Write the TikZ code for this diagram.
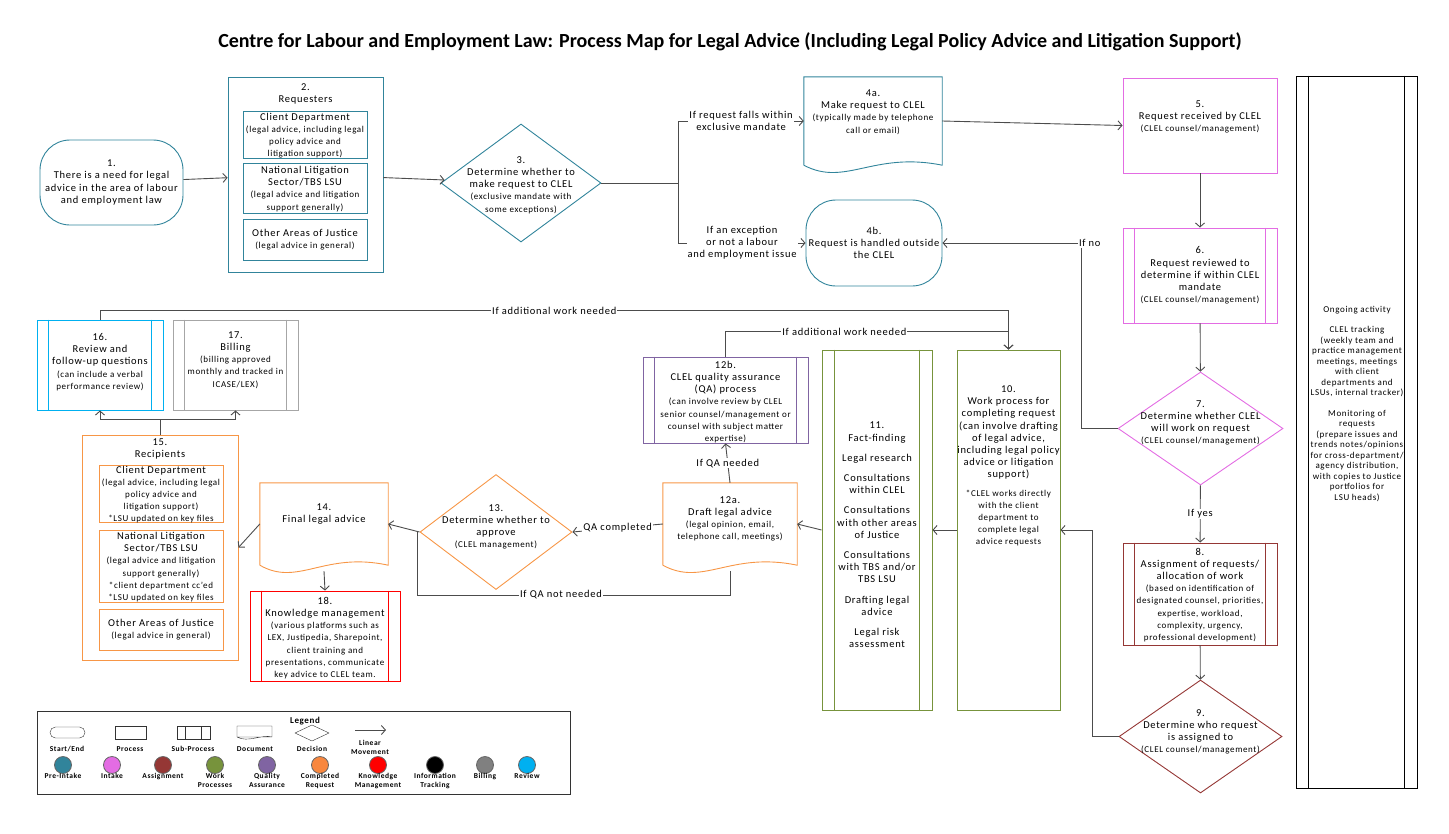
\documentclass[tikz,border=0pt]{standalone}
\usepackage{fontspec}
\setmainfont{Carlito}[LetterSpace=7]
\usetikzlibrary{arrows.meta, shapes.geometric, calc}

\definecolor{preintake}{HTML}{31849B}
\definecolor{intake}{HTML}{E36CE3}
\definecolor{assign}{HTML}{953735}
\definecolor{workp}{HTML}{77933C}
\definecolor{qualas}{HTML}{8064A2}
\definecolor{complreq}{HTML}{F79646}
\definecolor{knowman}{HTML}{FF0000}
\definecolor{billing}{HTML}{A6A6A6}
\definecolor{review}{HTML}{00B0F0}

\tikzset{
  box/.style={draw=#1, line width=0.9pt, rectangle, inner sep=0pt},
  term/.style={box=#1, rounded corners=30pt},
  decision/.style={draw=#1, line width=0.9pt, diamond, inner sep=0pt},
  txt/.style={align=center, inner sep=0pt, font=\fontsize{10.5}{12.2}\selectfont},
  lbl/.style={fill=white, inner sep=1pt, align=center, font=\fontsize{10.5}{12}\selectfont},
  line/.style={draw=black!70, line width=0.9pt},
  conn/.style={line, -{Straight Barb[length=4pt,width=9pt]}},
  dot/.style={circle, draw=black!60, line width=0.8pt, minimum size=17pt, inner sep=0pt, fill=#1},
  leg/.style={align=center, inner sep=0pt, font=\fontsize{7.5}{9}\selectfont\bfseries},
}
\newcommand\sm{\fontsize{9}{10.5}\selectfont}
% side bars of a sub-process
\newcommand\subbars[3]{%
  \draw[#3, line width=0.9pt] ($(#1.north west)+(#2,0)$) -- ($(#1.south west)+(#2,0)$)
    ($(#1.north east)+(-#2,0)$) -- ($(#1.south east)+(-#2,0)$);}
% wavy bottom of a document
\newcommand\docwave[2]{%
  \draw[#2, line width=0.9pt] (#1.south west) -- (#1.north west) -- (#1.north east) -- (#1.south east)
    .. controls ($(#1.south east)!0.5!(#1.south west)+(0,-14)$) and ($(#1.south west)!0.3!(#1.south east)+(0,22)$) .. (#1.south west);}

\begin{document}
\begin{tikzpicture}[x=1pt, y=-1pt]
  \useasboundingbox (0,0) rectangle (1449,833);

  \node[font=\fontsize{20}{22}\selectfont\bfseries\addfontfeature{LetterSpace=0}] (title) at (730,42)
    {Centre for Labour and Employment Law: Process Map for Legal Advice (Including Legal Policy Advice and Litigation Support)};

  % Pre-intake
  \node[term=preintake, minimum width=143pt, minimum height=85pt] (n1) at (111.5,182.5) {};
  \node[txt] at (n1) {1.\\There is a need for legal\\advice in the area of labour\\and employment law};

  \node[box=preintake, minimum width=155pt, minimum height=195pt] (n2) at (305.5,174.5) {};
  \node[txt] at (305.5,94) {2.\\Requesters};
  \node[box=preintake, minimum width=124pt, minimum height=47pt] (n2a) at (305,134.5) {};
  \node[txt] at (305,135.5) {Client Department\\\sm(legal advice, including legal\\\sm policy advice and\\\sm litigation support)};
  \node[box=preintake, minimum width=124pt, minimum height=50pt] (n2b) at (305,188) {};
  \node[txt] at (305,189) {National Litigation\\Sector/TBS LSU\\\sm(legal advice and litigation\\\sm support generally)};
  \node[box=preintake, minimum width=124pt, minimum height=41pt] (n2c) at (305,239.5) {};
  \node[txt] at (n2c) {Other Areas of Justice\\\sm(legal advice in general)};

  \node[decision=preintake, minimum width=160pt, minimum height=118pt] (n3) at (521,183) {};
  \node[txt] at (521,185) {3.\\Determine whether to\\make request to CLEL\\\sm(exclusive mandate with\\\sm some exceptions)};

  \node[minimum width=138pt, minimum height=88pt, inner sep=0pt] (n4a) at (873,121) {};
  \docwave{n4a}{preintake}
  \node[txt] at (873,112) {4a.\\Make request to CLEL\\\sm(typically made by telephone\\\sm call or email)};

  \node[term=preintake, minimum width=136pt, minimum height=86pt] (n4b) at (874,243) {};
  \node[txt] at (n4b) {4b.\\Request is handled outside\\the CLEL};

  % Intake
  \node[box=intake, minimum width=154pt, minimum height=95pt] (n5) at (1200,125.5) {};
  \node[txt] at (1200,117) {5.\\Request received by CLEL\\\sm(CLEL counsel/management)};

  \node[box=intake, minimum width=154pt, minimum height=95pt] (n6) at (1200,275.5) {};
  \subbars{n6}{12}{intake}
  \node[txt] at (n6) {6.\\Request reviewed to\\determine if within CLEL\\mandate\\\sm(CLEL counsel/management)};

  \node[decision=intake, minimum width=165pt, minimum height=113pt] (n7) at (1200.5,428.5) {};
  \node[txt] at (1200.5,423) {7.\\Determine whether CLEL\\will work on request\\\sm(CLEL counsel/management)};

  % Assignment
  \node[box=assign, minimum width=154pt, minimum height=102pt] (n8) at (1200,594) {};
  \subbars{n8}{12}{assign}
  \node[txt] at (1200,595) {8.\\Assignment of requests/\\allocation of work\\\sm(based on identification of\\\sm designated counsel, priorities,\\\sm expertise, workload,\\\sm complexity, urgency,\\\sm professional development)};

  \node[decision=assign, minimum width=163pt, minimum height=113pt] (n9) at (1200.5,736.5) {};
  \node[txt] at (1200.5,732) {9.\\Determine who request\\is assigned to\\\sm(CLEL counsel/management)};

  % Information tracking
  \node[box=black, minimum width=121pt, minimum height=712pt] (col) at (1356.5,432) {};
  \subbars{col}{13}{black}
  \node[txt, font=\sm] at (1357,404) {Ongoing activity\\[10pt]CLEL tracking\\(weekly team and\\practice management\\meetings, meetings\\with client\\departments and\\LSUs, internal tracker)\\[10pt]Monitoring of\\requests\\(prepare issues and\\trends notes/opinions\\for cross-department/\\agency distribution,\\with copies to Justice\\portfolios for\\LSU heads)};

  % Work processes
  \node[box=workp, minimum width=103pt, minimum height=360pt] (n10) at (1008.5,530) {};
  \node[txt] at (1008.5,466) {10.\\Work process for\\completing request\\(can involve drafting\\of legal advice,\\including legal policy\\advice or litigation\\support)\\[6pt]\sm *CLEL works directly\\\sm with the client\\\sm department to\\\sm complete legal\\\sm advice requests};

  \node[box=workp, minimum width=110pt, minimum height=360pt] (n11) at (877,530) {};
  \subbars{n11}{13}{workp}
  \node[txt] at (877,535) {11.\\Fact-finding\\[8pt]Legal research\\[8pt]Consultations\\within CLEL\\[8pt]Consultations\\with other areas\\of Justice\\[8pt]Consultations\\with TBS and/or\\TBS LSU\\[8pt]Drafting legal\\advice\\[8pt]Legal risk\\assessment};

  % Quality assurance
  \node[box=qualas, minimum width=165pt, minimum height=86pt] (n12b) at (725.5,400) {};
  \subbars{n12b}{12}{qualas}
  \node[txt] at (725.5,402) {12b.\\CLEL quality assurance\\(QA) process\\\sm(can involve review by CLEL\\\sm senior counsel/management or\\\sm counsel with subject matter\\\sm expertise)};

  % Completed request
  \node[minimum width=134pt, minimum height=82pt, inner sep=0pt] (n12a) at (730,524) {};
  \docwave{n12a}{complreq}
  \node[txt] at (730,519) {12a.\\Draft legal advice\\\sm(legal opinion, email,\\\sm telephone call, meetings)};

  \node[decision=complreq, minimum width=152pt, minimum height=115pt] (n13) at (496,532) {};
  \node[txt] at (496,527) {13.\\Determine whether to\\approve\\\sm(CLEL management)};

  \node[minimum width=128pt, minimum height=82pt, inner sep=0pt] (n14) at (324,524) {};
  \docwave{n14}{complreq}
  \node[txt] at (324,514) {14.\\Final legal advice};

  \node[box=complreq, minimum width=156pt, minimum height=225pt] (n15) at (160,547.5) {};
  \node[txt] at (160,449) {15.\\Recipients};
  \node[box=complreq, minimum width=124pt, minimum height=57pt] (n15a) at (161,493.5) {};
  \node[txt] at (161,494.5) {Client Department\\\sm(legal advice, including legal\\\sm policy advice and\\\sm litigation support)\\\sm *LSU updated on key files};
  \node[box=complreq, minimum width=124pt, minimum height=72pt] (n15b) at (161,566) {};
  \node[txt] at (161,567) {National Litigation\\Sector/TBS LSU\\\sm(legal advice and litigation\\\sm support generally)\\\sm *client department cc'ed\\\sm *LSU updated on key files};
  \node[box=complreq, minimum width=124pt, minimum height=41pt] (n15c) at (161,629.5) {};
  \node[txt] at (n15c) {Other Areas of Justice\\\sm(legal advice in general)};

  % Review and billing
  \node[box=review, minimum width=126pt, minimum height=90pt] (n16) at (100,365) {};
  \subbars{n16}{12}{review}
  \node[txt] at (100,362) {16.\\Review and\\follow-up questions\\\sm(can include a verbal\\\sm performance review)};

  \node[box=billing, minimum width=125pt, minimum height=90pt] (n17) at (235.5,365) {};
  \subbars{n17}{12}{billing}
  \node[txt] at (235.5,360) {17.\\Billing\\\sm(billing approved\\\sm monthly and tracked in\\\sm ICASE/LEX)};

  % Knowledge management
  \node[box=knowman, minimum width=150pt, minimum height=90pt] (n18) at (325,636) {};
  \subbars{n18}{12}{knowman}
  \node[txt] at (325,638) {18.\\Knowledge management\\\sm(various platforms such as\\\sm LEX, Justipedia, Sharepoint,\\\sm client training and\\\sm presentations, communicate\\\sm key advice to CLEL team.};

  % Connectors
  \draw[conn] (n1) -- (n2);
  \draw[conn] (n2) -- (n3);
  \draw[conn] (n3.east) -- ++(77,0) |- (n4a.west) node[lbl, pos=0.75] {If request falls within\\exclusive mandate};
  \draw[conn] (n3.east) -- ++(77,0) |- (n4b.west) node[lbl, pos=0.75] {If an exception\\or not a labour\\and employment issue};
  \draw[conn] (n4a.east) -- (n5.west);
  \draw[conn] (n5) -- (n6);
  \draw[conn] (n6) -- (n7);
  \draw[conn] (n7.west) -- ++(-36,0) |- (n4b.east) node[lbl, pos=0.5, anchor=west, xshift=-4pt] {If no};
  \draw[conn] (n7) -- (n8) node[lbl, midway] {If yes};
  \draw[conn] (n8) -- (n9);
  \draw[conn] (n9.west) -- ++(-26,0) |- (n10.east);
  \draw[conn] (n10) -- (n11);
  \draw[conn] (n11.west) -- (n12a.east);
  \draw[conn] (n12a.north) -- (n12b.south) node[lbl, midway] {If QA needed};
  \draw[conn] (n12a.west) -- (n13.east) node[lbl, midway] {QA completed};
  \coordinate (qa) at (417,532);
  \draw[line] ($(n12a.south)+(0,6)$) |- (417,595) node[lbl, pos=0.77] {If QA not needed} -- (qa);
  \draw[conn] (n13.west) -- (n14.east);
  \draw[conn] (n14.west) -- (n15.east);
  \draw[conn] ($(n14.south)+(0,6)$) -- (n18.north);
  \draw[conn] (n15.north) -- ++(0,-15) -| (n16.south);
  \draw[conn] (n15.north) -- ++(0,-15) -| (n17.south);
  \draw[conn] (n12b.north) -- ++(0,-25) -| (n10.north) node[lbl, pos=0.21] {If additional work needed};
  \draw[conn] (n16.north) -- ++(0,-9) -| (n10.north) node[lbl, pos=0.25] {If additional work needed};

  % Legend
  \node[draw=black!80, line width=0.9pt, minimum width=533pt, minimum height=83pt] (legend) at (303.5,752.5) {};
  \node[leg, font=\fontsize{9}{10}\selectfont\bfseries] at (305,721) {Legend};
  \draw[black!80, rounded corners=5.5pt] (50,727) rectangle (85,738);
  \node[leg] at (67,749) {Start/End};
  \draw[black!80] (115,726) rectangle (146,739);
  \node[leg] at (130,749) {Process};
  \draw[black!80] (177,726) rectangle (210,739) (185,726) -- (185,739) (201,726) -- (201,739);
  \node[leg] at (193,749) {Sub-Process};
  \draw[black!80] (272,737) -- (237,737) -- (237,726) -- (272,726) -- (272,737)
    .. controls (262,734) and (248,743) .. (237,737);
  \node[leg] at (255,749) {Document};
  \draw[black!80] (295,733) -- (312,725) -- (329,733) -- (312,741) -- cycle;
  \node[leg] at (312,749) {Decision};
  \coordinate (lmA) at (355,730);
  \coordinate (lmB) at (386,730);
  \draw[conn] (lmA) -- (lmB);
  \node[leg] at (370,747) {Linear\\Movement};
  \foreach \c/\x/\t in {preintake/63/Pre-Intake, intake/112/Intake, assign/163/Assignment,
      workp/215/Work\\Processes, qualas/267/Quality\\Assurance, complreq!90!red/320/Completed\\Request,
      knowman/378/Knowledge\\Management, black/435/Information\\Tracking, gray/485/Billing, review/527/Review} {
    \node[dot=\c] at (\x,765) {};
    \node[leg, anchor=north] at (\x,773) {\t};
  }
\end{tikzpicture}
\end{document}
